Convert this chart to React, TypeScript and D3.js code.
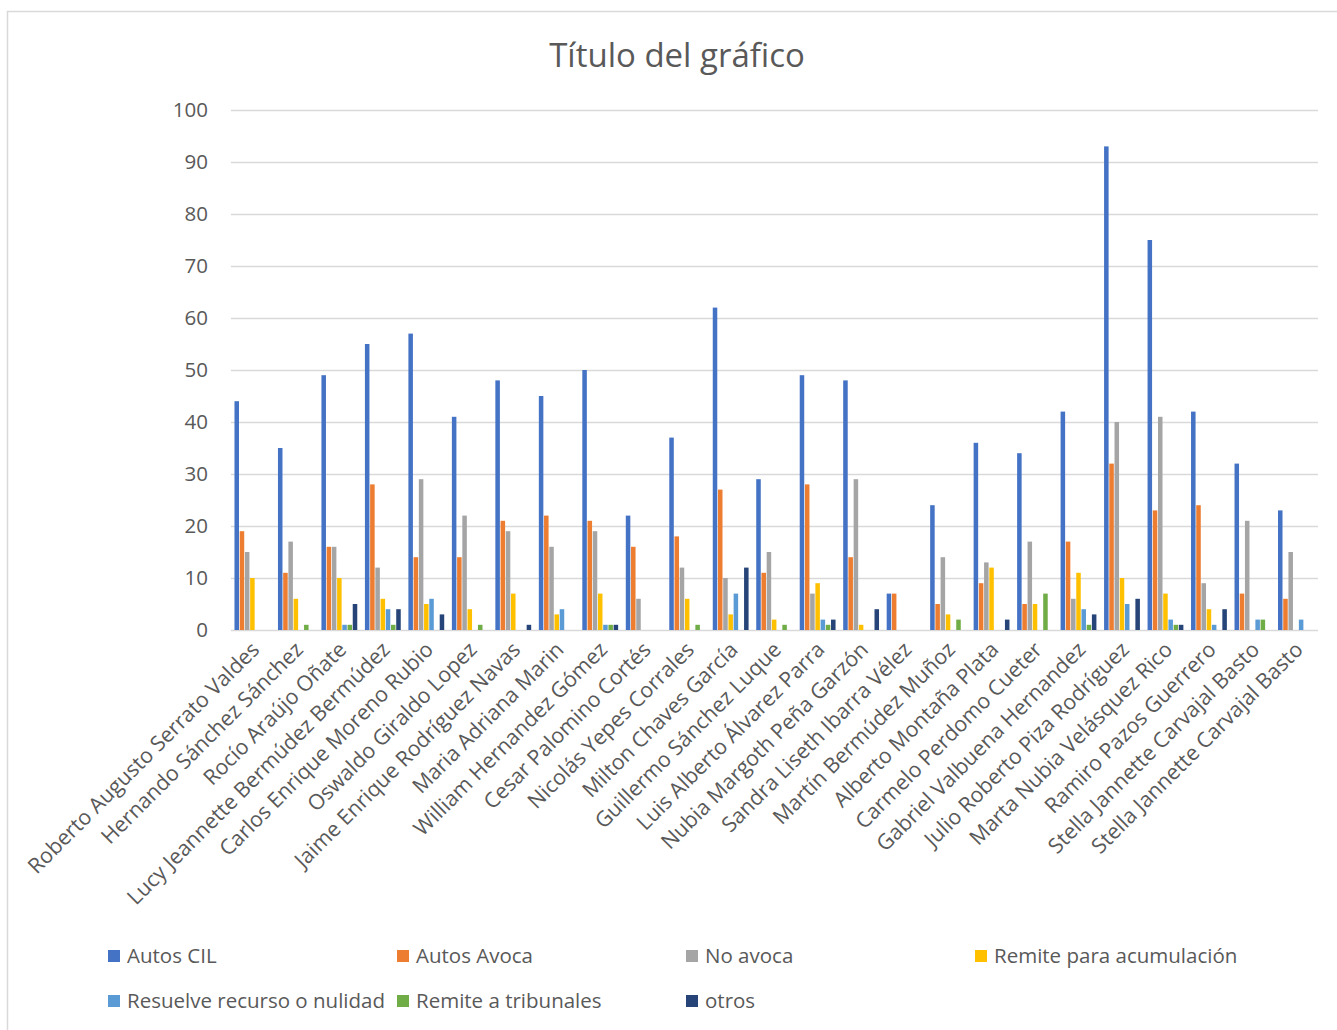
import React from "react";
import * as d3 from "d3";

const categories = [
  "Roberto Augusto Serrato Valdes",
  "Hernando Sánchez Sánchez",
  "Rocío Araújo Oñate",
  "Lucy Jeannette Bermúdez Bermúdez",
  "Carlos Enrique Moreno Rubio",
  "Oswaldo Giraldo Lopez",
  "Jaime Enrique Rodríguez Navas",
  "Maria Adriana Marin",
  "William Hernandez Gómez",
  "Cesar Palomino Cortés",
  "Nicolás Yepes Corrales",
  "Milton Chaves García",
  "Guillermo Sánchez Luque",
  "Luis Alberto Álvarez Parra",
  "Nubia Margoth Peña Garzón",
  "Sandra Liseth Ibarra Vélez",
  "Martín Bermúdez Muñoz",
  "Alberto Montaña Plata",
  "Carmelo Perdomo Cueter",
  "Gabriel Valbuena Hernandez",
  "Julio Roberto Piza Rodríguez",
  "Marta Nubia Velásquez Rico",
  "Ramiro Pazos Guerrero",
  "Stella Jannette Carvajal Basto",
  "Stella Jannette Carvajal Basto",
];

const seriesNames = [
  "Autos CIL",
  "Autos Avoca",
  "No avoca",
  "Remite para acumulación",
  "Resuelve recurso o nulidad",
  "Remite a tribunales",
  "otros",
];

const seriesColors = ["#4472C4", "#ED7D31", "#A5A5A5", "#FFC000", "#5B9BD5", "#70AD47", "#264478"];

const autosCIL = [44, 35, 49, 55, 57, 41, 48, 45, 50, 22, 37, 62, 29, 49, 48, 7, 24, 36, 34, 42, 93, 75, 42, 32, 23];
const autosAvoca = [19, 11, 16, 28, 14, 14, 21, 22, 21, 16, 18, 27, 11, 28, 14, 7, 5, 9, 5, 17, 32, 23, 24, 7, 6];
const noAvoca = [15, 17, 16, 12, 29, 22, 19, 16, 19, 6, 12, 10, 15, 7, 29, 0, 14, 13, 17, 6, 40, 41, 9, 21, 15];
const remiteAcum = [10, 6, 10, 6, 5, 4, 7, 3, 7, 0, 6, 3, 2, 9, 1, 0, 3, 12, 5, 11, 10, 7, 4, 0, 0];
const resuelve = [0, 0, 1, 4, 6, 0, 0, 4, 1, 0, 0, 7, 0, 2, 0, 0, 0, 0, 0, 4, 5, 2, 1, 2, 2];
const remiteTrib = [0, 1, 1, 1, 0, 1, 0, 0, 1, 0, 1, 0, 1, 1, 0, 0, 2, 0, 7, 1, 0, 1, 0, 2, 0];
const otros = [0, 0, 5, 4, 3, 0, 1, 0, 1, 0, 0, 12, 0, 2, 4, 0, 0, 2, 0, 3, 6, 1, 4, 0, 0];

const seriesValues = [autosCIL, autosAvoca, noAvoca, remiteAcum, resuelve, remiteTrib, otros];
const yTicks = [0, 10, 20, 30, 40, 50, 60, 70, 80, 90, 100];

const FONT = "'Open Sans', 'DejaVu Sans', sans-serif";
const TEXT = "#595959";

export default function App() {
  const left = 231;
  const right = 1318;
  const top = 110;
  const bottom = 630;

  const x = d3.scaleBand<number>().domain(d3.range(categories.length)).range([left, right]).paddingInner(0.16).paddingOuter(0.08);
  const xs = d3.scaleBand<number>().domain(d3.range(seriesNames.length)).range([0, x.bandwidth()]).padding(0);
  const y = d3.scaleLinear().domain([0, 100]).range([bottom, top]);

  const legendCols = [108, 397, 686, 975];
  const legendRows = [956, 1001];

  return (
    <svg width={1337} height={1030} style={{ position: "absolute", left: 0, top: 0, background: "#fff" }} fontFamily={FONT}>
      <rect x={7.5} y={11.5} width={1340} height={1030} fill="#fff" stroke="#D9D9D9" strokeWidth={1.5} />
      <text x={677} y={67} textAnchor="middle" fontSize={33} fill={TEXT}>Título del gráfico</text>
      {yTicks.map((t) => (
        <g key={t}>
          <line x1={left} x2={right} y1={Math.round(y(t)) + 0.5} y2={Math.round(y(t)) + 0.5} stroke="#D9D9D9" strokeWidth={1.3} />
          <text x={208} y={y(t)} dy="0.35em" textAnchor="end" fontSize={20.5} fill={TEXT}>{t}</text>
        </g>
      ))}
      {categories.map((c, i) => (
        <g key={i}>
          {seriesValues.map((vals, s) =>
            vals[i] > 0 ? (
              <rect
                key={s}
                x={(x(i) as number) + (xs(s) as number)}
                y={y(vals[i])}
                width={xs.bandwidth() - 0.7}
                height={y(0) - y(vals[i])}
                fill={seriesColors[s]}
              />
            ) : null
          )}
          <text
            transform={`translate(${(x(i) as number) + x.bandwidth() / 2 + 8},${651}) rotate(-45)`}
            textAnchor="end"
            fontSize={21.3}
            fill={TEXT}
          >
            {c}
          </text>
        </g>
      ))}
      {seriesNames.map((n, s) => {
        const cx = legendCols[s % 4];
        const cy = legendRows[Math.floor(s / 4)];
        return (
          <g key={n}>
            <rect x={cx} y={cy - 6} width={12} height={12} fill={seriesColors[s]} />
            <text x={cx + 19} y={cy} dy="0.35em" fontSize={20.5} fill={TEXT}>{n}</text>
          </g>
        );
      })}
    </svg>
  );
}
